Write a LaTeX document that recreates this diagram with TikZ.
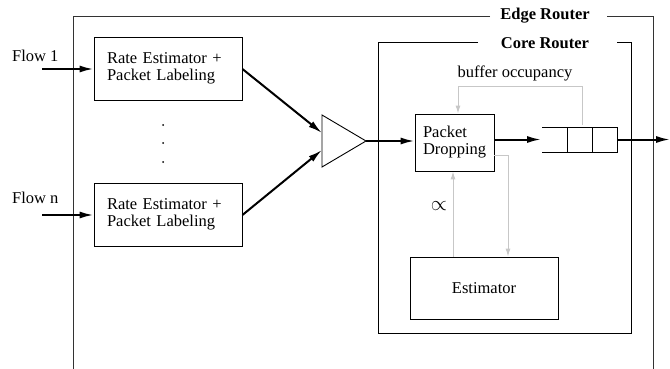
\documentclass[tikz,border=0pt]{standalone}
\usepackage{fontspec}
\setmainfont{Liberation Serif}
\usetikzlibrary{arrows.meta}
\begin{document}
\begin{tikzpicture}[x=1pt,y=-1pt,
  every node/.style={font=\fontsize{16.5}{17}\selectfont},
  blockbox/.style={draw, line width=0.9pt, align=left, inner sep=0pt},
  frame/.style={draw=black!80, line width=0.9pt},
  flow/.style={line width=2pt, -{Latex[length=14pt,width=7pt]}},
  ctrl/.style={draw=black!22, line width=1pt, -{Latex[length=8pt,width=5pt]}},
  title/.style={font=\fontsize{16.5}{17}\selectfont\bfseries, inner sep=1pt}]
\useasboundingbox (0,0) rectangle (670,369);

% outer frame: edge router (open at the bottom)
\node[title] (edge) at (545,16) {Edge Router};
\draw[frame] (490,16) -- (73,16) -- (73,369);
\draw[frame] (607,16) -- (653,16) -- (653,369);

% inner frame: core router
\node[title] (core) at (545,43) {Core Router};
\draw[frame, draw=black] (478,42) -- (378,42) -- (378,333) -- (631,333) -- (631,42) -- (617,42);

% per-flow estimators
\node[blockbox, minimum width=148pt, minimum height=63pt, text width=122pt] (re1) at (168,68.5)
  {Rate Estimator +\\Packet Labeling};
\node[blockbox, minimum width=148pt, minimum height=63pt, text width=122pt] (ren) at (168,214.5)
  {Rate Estimator +\\Packet Labeling};
\foreach \yy in {125,143,162} \fill (163,\yy) circle (1pt);

% flow labels and inputs
\node[anchor=west, inner sep=0pt] (f1) at (12,56) {Flow 1};
\node[anchor=west, inner sep=0pt] (fn) at (12,198) {Flow n};
\coordinate (in1) at (42,69);
\coordinate (inn) at (42,215);
\draw[flow] (in1) -- (re1.west |- in1);
\draw[flow] (inn) -- (ren.west |- inn);

% multiplexer triangle
\coordinate (mt) at (322,115);
\coordinate (mb) at (322,167);
\coordinate (mx) at (366,141);
\draw[line width=0.9pt] (mt) -- (mx) -- (mb) -- cycle;
\coordinate (m1) at (322,133);
\coordinate (m2) at (322,150);
\draw[flow] (re1.east |- in1) -- (m1);
\draw[flow] (ren.east |- inn) -- (m2);

% packet dropping and estimator
\node[blockbox, minimum width=79pt, minimum height=57pt, text width=63pt] (pd) at (454.5,142.5)
  {Packet\\Dropping};
\node[blockbox, minimum width=148pt, minimum height=62pt, align=center] (est) at (484,288)
  {Estimator};
\draw[flow] (mx) -- (pd.west |- mx);

% output queue
\coordinate (qa) at (542,127);
\coordinate (qb) at (542,152);
\coordinate (qc) at (617,127);
\coordinate (qd) at (617,152);
\draw[line width=0.9pt] (qa) -- (qc) -- (qd) -- (qb);
\draw[line width=0.9pt] (567,127) -- (567,152) (592,127) -- (592,152);
\coordinate (qin) at (541,139.5);
\coordinate (qout) at (617,139.5);
\coordinate (out) at (670,139.5);
\draw[flow] (pd.east |- qin) -- (qin);
\draw[flow] (qout) -- (out);

% feedback paths
\coordinate (bo) at (582,125);
\draw[ctrl] (bo) -- (582,87) -- (458,87) -- (pd.north -| 458,0);
\node (bol) at (515,73) {buffer occupancy};
\draw[ctrl] (pd.east |- 0,155) -- (508,155) -- (est.north -| 508,0);
\draw[ctrl] (est.north -| 453,0) -- (pd.south -| 453,0);
\node (prop) at (439,206) {\fontsize{20}{20}\selectfont$\propto$};
\end{tikzpicture}
\end{document}
